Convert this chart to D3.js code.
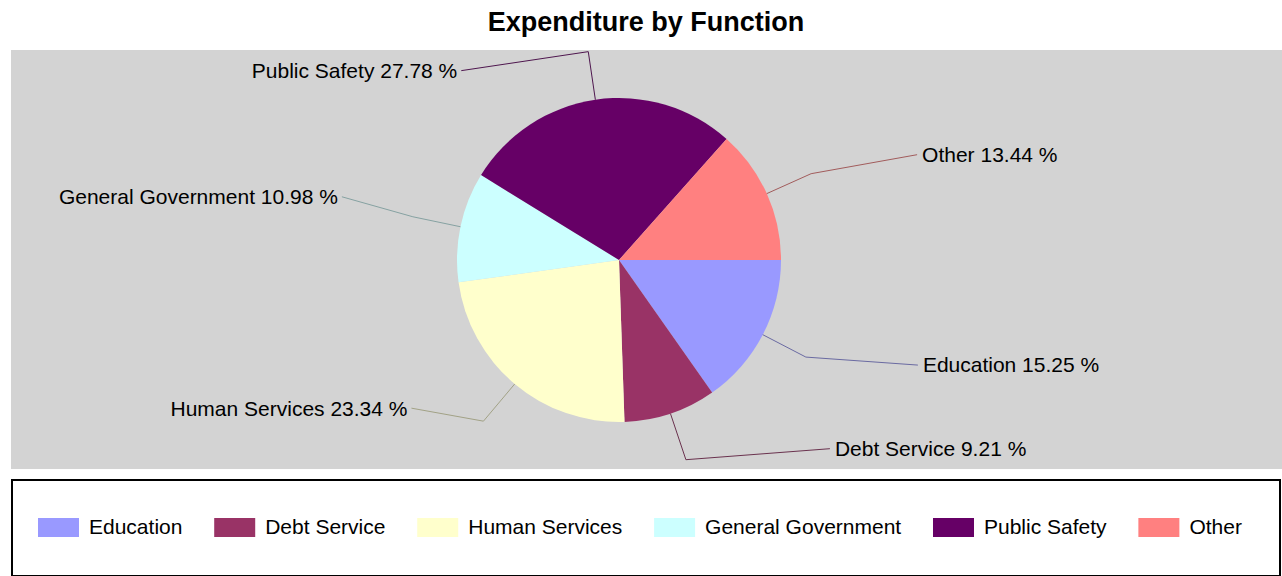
<!DOCTYPE html>
<html>
    <head>
        <title>Expenditure by Function</title>
        <style>
            body { margin: 0; background: #fff; }
            text { font-family: "Liberation Sans", Arial, sans-serif; }
        </style>
    </head>
    <body>
        <script src="https://cdnjs.cloudflare.com/ajax/libs/d3/7.8.5/d3.min.js" charset="utf-8"></script>
        <script>

        // chart data
        var categories = ["Education", "Debt Service", "Human Services", "General Government", "Public Safety", "Other"];
        var percents = [15.25, 9.21, 23.34, 10.98, 27.78, 13.44];
        var colors = ["#9999ff", "#993366", "#ffffcc", "#ccffff", "#660066", "#ff8080"];

        // manual nudges of the labels away from the elbow of each leader line
        var labelNudge = [[112, 8], [144, -11], [-72, -13], [-71, -20], [-127, 19], [106, -19]];

        var w = 1282;
        var h = 576;

        var plot = { x: 11, y: 50, w: 1271, h: 419 };
        var legendBox = { x: 12, y: 480, w: 1268, h: 96 };

        var radius = 162;
        var cx = plot.x + plot.w / 2 - 27.5;
        var cy = plot.y + plot.h / 2 + 0.5;

        var data = categories.map(function(c, i) {
            return { name: c, value: percents[i], color: colors[i], nudge: labelNudge[i] };
        });

        var svg = d3.select("body")
                    .append("svg")
                    .attr("width", w)
                    .attr("height", h);

        //Title
        svg.append("text")
            .attr("x", w / 2 + 5)
            .attr("y", 31)
            .attr("text-anchor", "middle")
            .attr("font-size", "27px")
            .attr("font-weight", "bold")
            .attr("fill", "#000")
            .text("Expenditure by Function");

        //Plot area
        svg.append("rect")
            .attr("x", plot.x)
            .attr("y", plot.y)
            .attr("width", plot.w)
            .attr("height", plot.h)
            .attr("fill", "#d3d3d3");

        // pie starts at 3 o'clock and runs clockwise
        var pie = d3.pie()
                    .sort(null)
                    .value(function(d) { return d.value; })
                    .startAngle(Math.PI / 2)
                    .endAngle(Math.PI / 2 + 2 * Math.PI);

        var arc = d3.arc()
                    .innerRadius(0)
                    .outerRadius(radius);

        var edgeArc = d3.arc().innerRadius(radius).outerRadius(radius);
        var elbowArc = d3.arc().innerRadius(radius * 1.3).outerRadius(radius * 1.3);

        var g = svg.append("g")
                   .attr("transform", "translate(" + cx + "," + cy + ")");

        var arcs = pie(data);

        //Create slices
        g.selectAll("path.slice")
            .data(arcs)
            .enter()
            .append("path")
            .attr("class", "slice")
            .attr("d", arc)
            .attr("fill", function(d) { return d.data.color; });

        //Leader lines
        g.selectAll("polyline")
            .data(arcs)
            .enter()
            .append("polyline")
            .attr("points", function(d) {
                var a = edgeArc.centroid(d);
                var b = elbowArc.centroid(d);
                var c = [b[0] + d.data.nudge[0], b[1] + d.data.nudge[1]];
                return [a, b, c].map(function(p) { return p.join(","); }).join(" ");
            })
            .attr("fill", "none")
            .attr("stroke", function(d) {
                return d3.interpolateRgb(d.data.color, "#303030")(0.45);
            })
            .attr("stroke-width", 1);

        //Labels
        g.selectAll("text.label")
            .data(arcs)
            .enter()
            .append("text")
            .attr("class", "label")
            .attr("x", function(d) {
                var b = elbowArc.centroid(d);
                var right = d.data.nudge[0] > 0;
                return b[0] + d.data.nudge[0] + (right ? 5 : -4);
            })
            .attr("y", function(d) {
                return elbowArc.centroid(d)[1] + d.data.nudge[1];
            })
            .attr("dy", "0.35em")
            .attr("text-anchor", function(d) { return d.data.nudge[0] > 0 ? "start" : "end"; })
            .attr("font-size", "21px")
            .attr("fill", "#000")
            .text(function(d) { return d.data.name + " " + d3.format(".2f")(d.data.value) + " %"; });

        //Legend
        svg.append("rect")
            .attr("x", legendBox.x)
            .attr("y", legendBox.y)
            .attr("width", legendBox.w)
            .attr("height", legendBox.h)
            .attr("fill", "#fff")
            .attr("stroke", "#000")
            .attr("stroke-width", 2);

        var legend = svg.append("g");
        var lx = 38;
        var ly = 527;
        data.forEach(function(d) {
            var item = legend.append("g");
            item.append("rect")
                .attr("x", lx)
                .attr("y", ly - 9)
                .attr("width", 41)
                .attr("height", 19)
                .attr("fill", d.color);
            var t = item.append("text")
                .attr("x", lx + 51)
                .attr("y", ly)
                .attr("dy", "0.35em")
                .attr("font-size", "21px")
                .attr("fill", "#000")
                .text(d.name);
            lx = lx + 51 + t.node().getComputedTextLength() + 31.8;
        });

        </script>
    </body>
</html>
